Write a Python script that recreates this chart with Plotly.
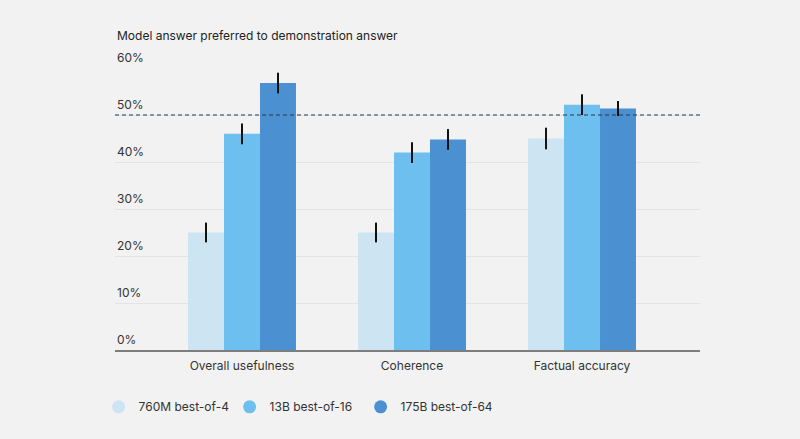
import plotly.graph_objects as go

categories = ["Overall usefulness", "Coherence", "Factual accuracy"]
series_names = ["760M best-of-4", "13B best-of-16", "175B best-of-64"]
values_760m = [25.0, 25.0, 45.0]
values_13b = [46.0, 42.0, 52.2]
values_175b = [56.8, 44.8, 51.4]
err_760m = [2.1, 2.1, 2.3]
err_13b = [2.2, 2.2, 2.2]
err_175b = [2.2, 2.2, 1.6]
y_ticks = [0, 10, 20, 30, 40, 50, 60]
y_tick_labels = ["0%", "10%", "20%", "30%", "40%", "50%", "60%"]
colors = ["#cde4f3", "#6cbfee", "#4b91d1"]
FONT = "Inter, Noto Sans, sans-serif"

fig = go.Figure()
all_vals = [values_760m, values_13b, values_175b]
all_errs = [err_760m, err_13b, err_175b]
for name, vals, errs, c in zip(series_names, all_vals, all_errs, colors):
    fig.add_trace(go.Bar(
        x=categories, y=vals, name=name, marker=dict(color=c, line=dict(width=0)),
        error_y=dict(type="data", array=errs, color="#111111", thickness=2, width=0),
        showlegend=False,
    ))
    fig.add_trace(go.Scatter(
        x=[None], y=[None], mode="markers", name=name,
        marker=dict(symbol="circle", size=13, color=c),
    ))

annotations = []
for t, lab in zip(y_ticks, y_tick_labels):
    annotations.append(dict(
        x=0, xref="paper", y=t, yref="y", text=lab, showarrow=False,
        xanchor="left", yanchor="bottom", yshift=1,
        font=dict(family=FONT, size=12, color="#333333"),
    ))
annotations.append(dict(
    x=0, xref="paper", y=1.117, yref="paper", text="Model answer preferred to demonstration answer",
    showarrow=False, xanchor="left", yanchor="middle",
    font=dict(family=FONT, size=12, color="#222222"),
))

fig.update_layout(
    width=800, height=439,
    margin=dict(l=115, r=100, t=68, b=89),
    paper_bgcolor="#f2f2f2", plot_bgcolor="#f2f2f2",
    barmode="group", bargap=0.365, bargroupgap=0,
    font=dict(family=FONT, size=12, color="#333333"),
    xaxis=dict(
        type="category", range=[-0.747, 2.694], showgrid=False,
        showline=True, linecolor="#7d7d7d", linewidth=2,
        ticks="", ticklabelstandoff=4,
        tickfont=dict(family=FONT, size=12, color="#333333"),
    ),
    yaxis=dict(
        range=[0, 60], tickvals=y_ticks, showticklabels=False,
        showgrid=True, gridcolor="#e4e4e4", gridwidth=1, zeroline=False,
        fixedrange=True,
    ),
    legend=dict(
        orientation="h", x=-0.028, xanchor="left", y=-0.15, yanchor="top",
        font=dict(family=FONT, size=12, color="#333333"),
        entrywidth=86, entrywidthmode="pixels", bgcolor="rgba(0,0,0,0)",
    ),
    annotations=annotations,
    shapes=[dict(
        type="line", xref="paper", x0=0, x1=1, yref="y", y0=50, y1=50,
        line=dict(color="#2a3646", width=1.2, dash="4px,3px"), layer="above",
    )],
)

fig.write_html("out.html", config={"displayModeBar": False},
               post_script="document.body.style.margin='0';")
